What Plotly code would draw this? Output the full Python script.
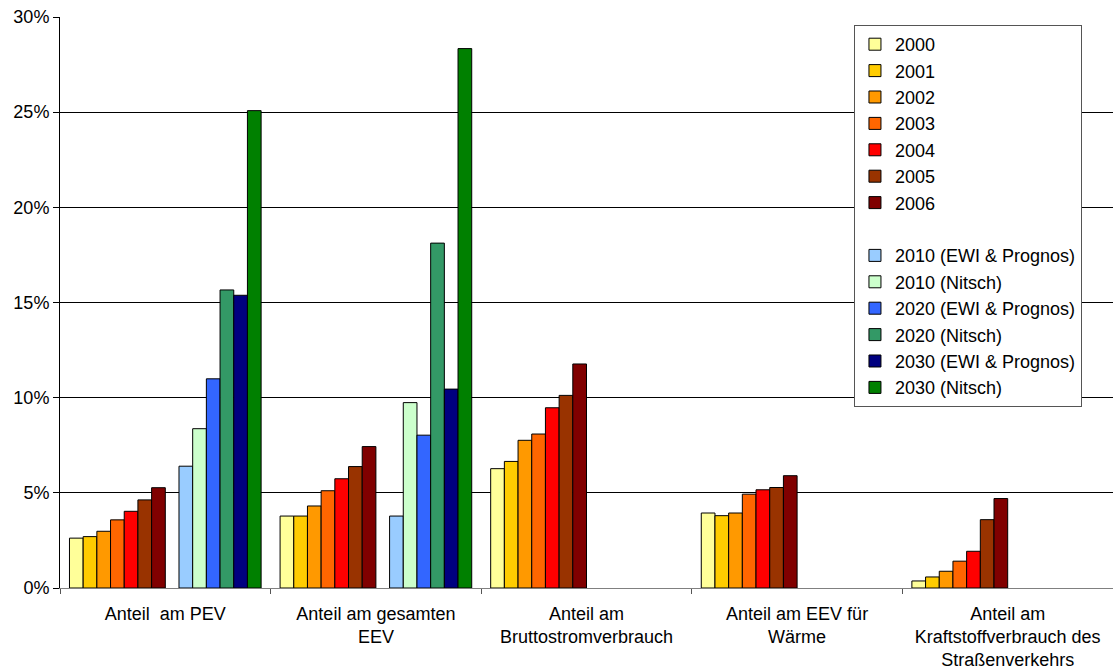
import plotly.graph_objects as go

# Anteil erneuerbarer Energien (in %)
categories = [
    "Anteil  am PEV",
    "Anteil am gesamten<br>EEV",
    "Anteil am<br>Bruttostromverbrauch",
    "Anteil am EEV für<br>Wärme",
    "Anteil am<br>Kraftstoffverbrauch des<br>Straßenverkehrs",
]

series_names = [
    "2000", "2001", "2002", "2003", "2004", "2005", "2006",
    " ",
    "2010 (EWI & Prognos)", "2010 (Nitsch)",
    "2020 (EWI & Prognos)", "2020 (Nitsch)",
    "2030 (EWI & Prognos)", "2030 (Nitsch)",
]

v2000 = [2.62, 3.78, 6.27, 3.94, 0.37]
v2001 = [2.70, 3.78, 6.65, 3.80, 0.58]
v2002 = [2.98, 4.31, 7.76, 3.94, 0.88]
v2003 = [3.58, 5.11, 8.09, 4.93, 1.41]
v2004 = [4.03, 5.74, 9.47, 5.16, 1.93]
v2005 = [4.63, 6.38, 10.12, 5.28, 3.59]
v2006 = [5.27, 7.43, 11.77, 5.90, 4.70]
v_blank = [None, None, None, None, None]
v2010_ewi = [6.40, 3.78, None, None, None]
v2010_nitsch = [8.37, 9.74, None, None, None]
v2020_ewi = [10.99, 8.03, None, None, None]
v2020_nitsch = [15.66, 18.12, None, None, None]
v2030_ewi = [15.38, 10.45, None, None, None]
v2030_nitsch = [25.08, 28.34, None, None, None]

series_values = [
    v2000, v2001, v2002, v2003, v2004, v2005, v2006, v_blank,
    v2010_ewi, v2010_nitsch, v2020_ewi, v2020_nitsch, v2030_ewi, v2030_nitsch,
]

tick_values = [0, 5, 10, 15, 20, 25, 30]
tick_labels = ["0%", "5%", "10%", "15%", "20%", "25%", "30%"]

colors = [
    "#FFFF99", "#FFCC00", "#FF9900", "#FF6600", "#FF0000", "#993300", "#800000",
    "rgba(0,0,0,0)",
    "#99CCFF", "#CCFFCC", "#3366FF", "#339966", "#000080", "#008000",
]

FONT = "Liberation Sans, Arial, sans-serif"

fig = go.Figure()
for name, vals, col in zip(series_names, series_values, colors):
    blank = name.strip() == ""
    fig.add_trace(go.Bar(
        x=categories,
        y=vals,
        name=name,
        marker=dict(
            color=col,
            line=dict(color="rgba(0,0,0,0)" if blank else "#000000", width=0 if blank else 1),
        ),
        hoverinfo="skip" if blank else None,
    ))

fig.update_layout(
    width=1113,
    height=670,
    barmode="group",
    bargap=0.09,
    bargroupgap=0,
    plot_bgcolor="white",
    paper_bgcolor="white",
    margin=dict(l=60, r=0, t=17, b=82),
    font=dict(family=FONT, color="#000000", size=18),
    showlegend=True,
    legend=dict(
        x=0.754,
        y=0.986,
        xanchor="left",
        yanchor="top",
        bgcolor="white",
        bordercolor="#555555",
        borderwidth=1,
        font=dict(family=FONT, size=18, color="#000000"),
        traceorder="normal",
        itemwidth=30,
    ),
    xaxis=dict(
        type="category",
        showline=True,
        linecolor="#808080",
        linewidth=1,
        tickson="boundaries",
        ticks="outside",
        ticklen=5,
        tickcolor="#555555",
        showgrid=False,
        ticklabelstandoff=9,
        tickfont=dict(family=FONT, size=18),
    ),
    yaxis=dict(
        range=[0, 30],
        tickmode="array",
        tickvals=tick_values,
        ticktext=tick_labels,
        showline=True,
        linecolor="#000000",
        linewidth=1,
        ticks="outside",
        ticklen=6,
        tickcolor="#000000",
        showgrid=True,
        gridcolor="#000000",
        gridwidth=1,
        zeroline=False,
        tickfont=dict(family=FONT, size=18),
    ),
)

fig.write_html("out.html")
